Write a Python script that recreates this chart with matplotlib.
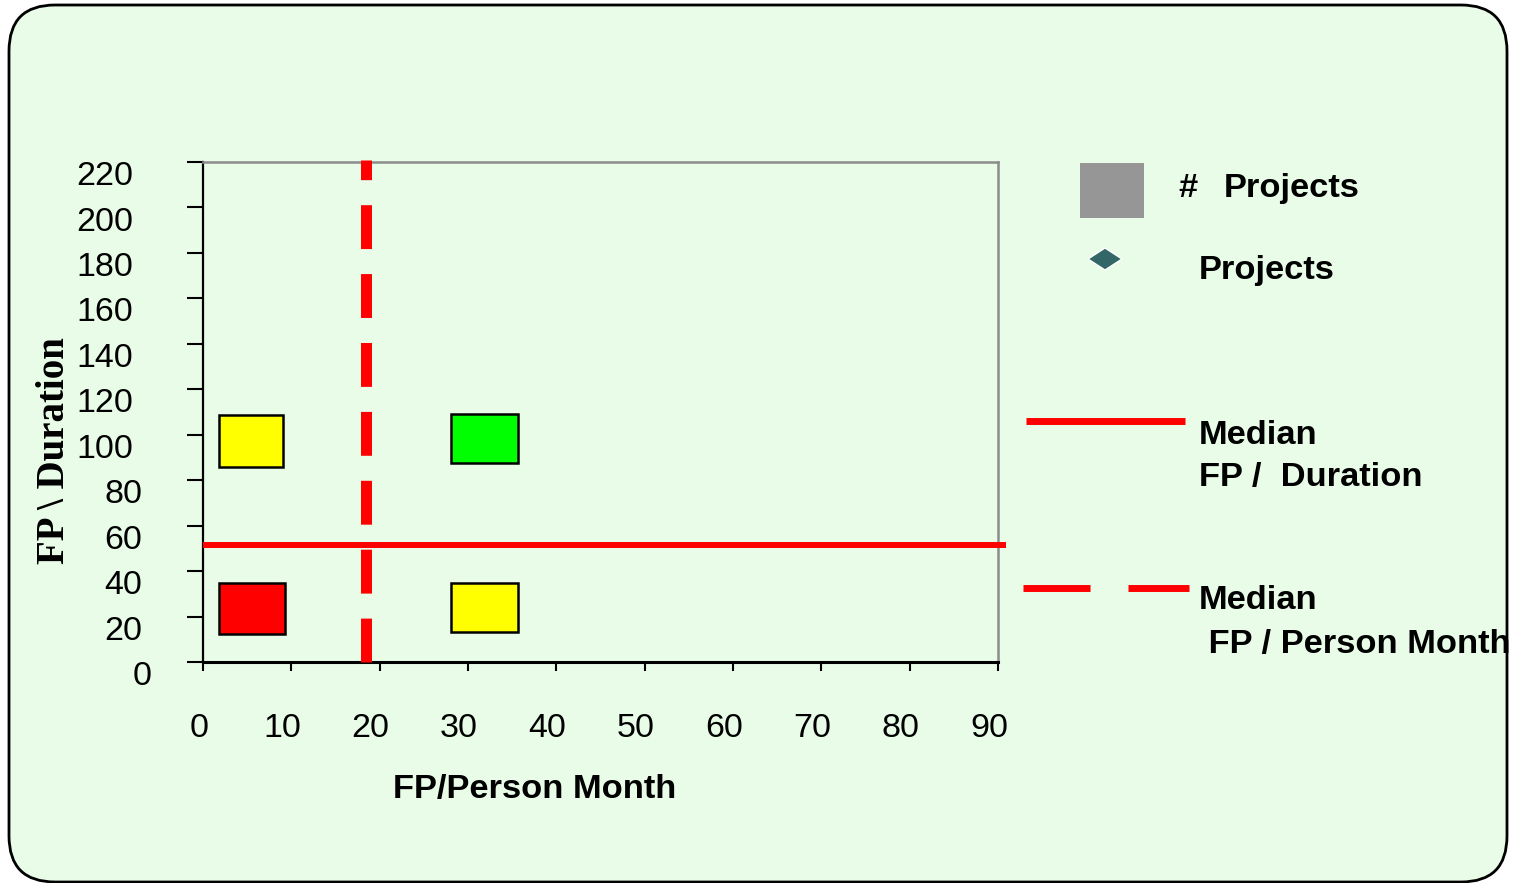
import matplotlib.pyplot as plt
from matplotlib.patches import FancyBboxPatch, Rectangle, Polygon
from matplotlib.transforms import ScaledTranslation

plt.rcParams['font.family'] = ['Liberation Sans', 'DejaVu Sans']

# axis ticks
x_ticks = [0, 10, 20, 30, 40, 50, 60, 70, 80, 90]
y_ticks = [0, 20, 40, 60, 80, 100, 120, 140, 160, 180, 200, 220]

# quadrant boxes (FP/Person Month range, FP/Duration range)
box_x_lo = [1.8, 28.1, 1.8, 28.1]
box_x_hi = [9.1, 35.7, 9.3, 35.7]
box_y_lo = [85.8, 87.5, 12.3, 13.2]
box_y_hi = [108.7, 109.1, 34.8, 34.8]
box_colors = ['#FFFF00', '#00FF00', '#FF0000', '#FFFF00']

# medians
median_fp_duration = 51.5
median_fp_person_month = 18.5

bg = '#E8FCE8'
fs = 24.8     # bold legend / title text
tfs = 24.5    # tick labels

fig = plt.figure(figsize=(15.15, 8.83), dpi=100)
fig.patch.set_facecolor('white')

# background panel, pixel coordinates
back = fig.add_axes([0, 0, 1, 1])
back.set_xlim(0, 1515)
back.set_ylim(883, 0)
back.axis('off')
back.add_patch(FancyBboxPatch((9, 5), 1498, 877,
                              boxstyle='round,pad=0,rounding_size=46',
                              fc=bg, ec='black', lw=2))

# main plot
ax = fig.add_axes([203 / 1515, 1 - 662 / 883, 795 / 1515, 500 / 883])
ax.set_facecolor(bg)
ax.set_xlim(0, 90)
ax.set_ylim(0, 220)

for x0, x1, y0, y1, c in zip(box_x_lo, box_x_hi, box_y_lo, box_y_hi, box_colors):
    ax.add_patch(Rectangle((x0, y0), x1 - x0, y1 - y0, fc=c, ec='black',
                           lw=1.8, zorder=3))

ax.plot([0, 90.9], [median_fp_duration, median_fp_duration], color='red',
        lw=4.3, clip_on=False, zorder=4, solid_capstyle='butt')
ax.plot([median_fp_person_month, median_fp_person_month], [0, 220.9],
        color='red', lw=7.9, dashes=(4.0, 2.28), clip_on=False, zorder=4)

for s in ['left', 'bottom']:
    ax.spines[s].set_color('black')
ax.spines['left'].set_linewidth(1.6)
ax.spines['bottom'].set_linewidth(2.2)
for s in ['top', 'right']:
    ax.spines[s].set_color('#8C8C8C')
    ax.spines[s].set_linewidth(1.8)

ax.set_xticks(x_ticks)
ax.set_yticks(y_ticks)
ax.set_xticklabels([str(v) for v in x_ticks])
ax.set_yticklabels([str(v) for v in y_ticks])
ax.tick_params(axis='y', direction='out', length=11.5, width=1.5, pad=39,
               labelsize=tfs)
ax.tick_params(axis='x', direction='out', length=6.5, width=1.5, pad=30,
               labelsize=tfs)

for lab, v in zip(ax.get_yticklabels(), y_ticks):
    dx = (3 - len(str(v))) * 0.278 * tfs
    lab.set_transform(lab.get_transform() +
                      ScaledTranslation(dx / 72, -8 / 72, fig.dpi_scale_trans))
for lab, v in zip(ax.get_xticklabels(), x_ticks):
    dx = -3 if v < 10 else -6.5
    lab.set_transform(lab.get_transform() +
                      ScaledTranslation(dx / 72, 0, fig.dpi_scale_trans))

# axis titles
back.text(535, 798, 'FP/Person Month', ha='center', va='baseline',
          fontsize=fs, fontweight='bold')
back.text(55, 451, 'FP \\ Duration', ha='center', va='center', rotation=90,
          fontsize=28, fontweight='bold', family=['Liberation Serif', 'DejaVu Serif'])

# legend
back.add_patch(Rectangle((1080, 163), 64, 55, fc='#969696', ec='none'))
back.text(1178, 197, '#', fontsize=fs, fontweight='bold', va='baseline')
back.text(1224, 197, 'Projects', fontsize=fs, fontweight='bold', va='baseline')
back.add_patch(Polygon([(1088, 259), (1105, 248), (1122, 259), (1105, 270)],
                       closed=True, fc='#336666', ec='white', lw=1))
back.text(1199, 279, 'Projects', fontsize=fs, fontweight='bold', va='baseline')

back.plot([1026, 1185], [421, 421], color='red', lw=5, solid_capstyle='butt')
back.text(1199, 444, 'Median', fontsize=fs, fontweight='bold', va='baseline')
back.text(1199, 486, 'FP /  Duration', fontsize=fs, fontweight='bold', va='baseline')

back.plot([1023, 1189], [588, 588], color='red', lw=5, dashes=(9.65, 5.47))
back.text(1199, 609, 'Median', fontsize=fs, fontweight='bold', va='baseline')
back.text(1199, 653, ' FP / Person Month', fontsize=fs, fontweight='bold', va='baseline')

fig.savefig('out.png', dpi=100)
